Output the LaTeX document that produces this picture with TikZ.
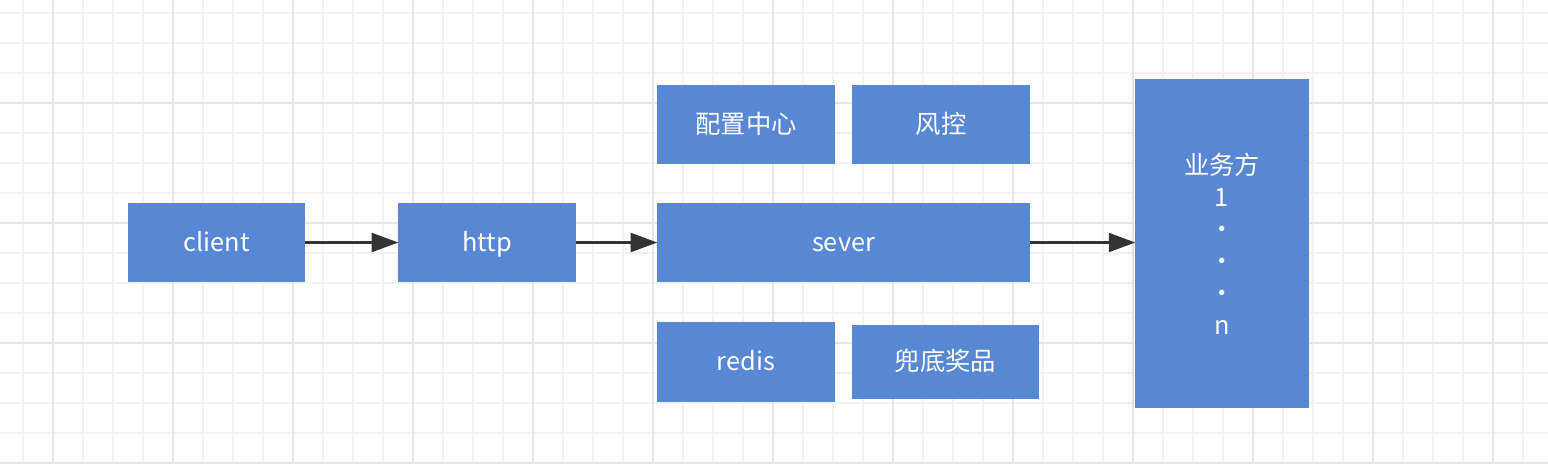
\documentclass[tikz,border=0pt]{standalone}
\usepackage{fontspec}
\newfontfamily\cjk{Noto Sans CJK SC}
\usetikzlibrary{arrows.meta}
\definecolor{boxblue}{RGB}{88,135,212}
\definecolor{arrowgray}{RGB}{51,51,51}
\definecolor{minorgrid}{RGB}{242,242,242}
\definecolor{majorgrid}{RGB}{229,229,229}
\begin{document}
\begin{tikzpicture}[x=0.75pt,y=-0.75pt,
    block/.style={fill=boxblue,text=white,inner sep=0pt,
      font=\cjk\fontsize{19}{24}\selectfont,align=center},
    oneline/.style={block,text height=14pt,text depth=1pt},
    flow/.style={line width=2.3pt,arrowgray,
      -{Triangle[length=20pt,width=14pt]},shorten >=-0.5pt}]
      \useasboundingbox (0,0) rectangle (1548,464);
      % grid
      \foreach \x in {23,53,...,1548} \draw[minorgrid,line width=1.3pt] (\x,0)--(\x,464);
      \foreach \y in {13,43,...,464} \draw[minorgrid,line width=1.3pt] (0,\y)--(1548,\y);
      \foreach \x in {53,173,...,1548} \draw[majorgrid,line width=1.3pt] (\x,0)--(\x,464);
      \foreach \y in {103,223,343,463} \draw[majorgrid,line width=1.3pt] (0,\y)--(1548,\y);
      % boxes
      \node[oneline,minimum width=132.75pt,minimum height=59.25pt] (client) at (216.5,242.5) {client};
      \node[oneline,minimum width=133.5pt,minimum height=59.25pt] (http) at (487,242.5) {http};
      \node[oneline,minimum width=279.75pt,minimum height=59.25pt] (sever) at (843.5,242.5) {sever};
      \node[oneline,minimum width=133.5pt,minimum height=59.25pt] (config) at (746,124.5) {配置中心};
      \node[oneline,minimum width=133.5pt,minimum height=59.25pt] (risk) at (941,124.5) {风控};
      \node[oneline,minimum width=133.5pt,minimum height=60pt] (redis) at (746,362) {redis};
      \node[oneline,minimum width=140.25pt,minimum height=55.5pt] (prize) at (945.5,362) {兜底奖品};
      \node[block,minimum width=130.5pt,minimum height=246.75pt] (biz) at (1222,243.5)
        {业务方\\1\\·\\·\\·\\n};
      % arrows
      \draw[flow] (client.east)--(http.west);
      \draw[flow] (http.east)--(sever.west);
      \draw[flow] (sever.east)--(biz.west|-sever.east);
\end{tikzpicture}
\end{document}
